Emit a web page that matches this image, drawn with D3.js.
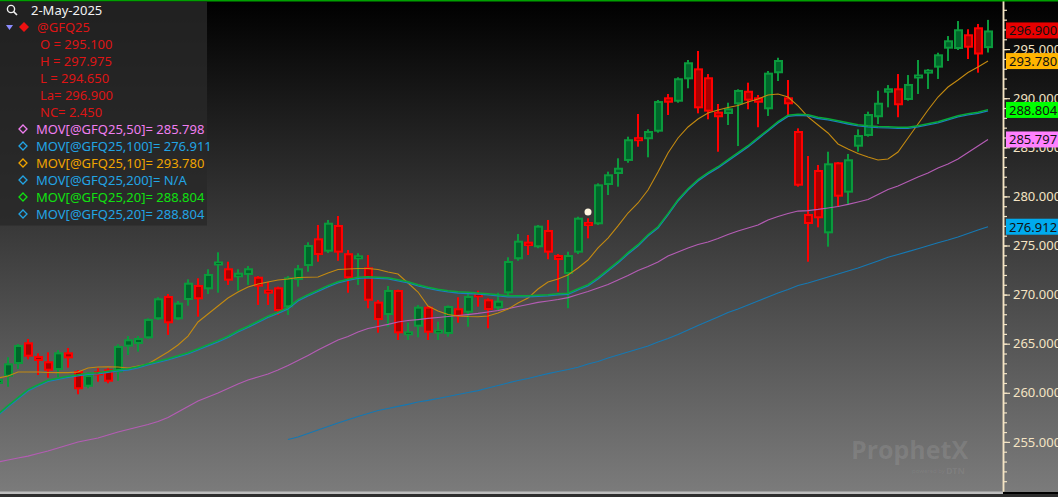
<!DOCTYPE html>
<html><head><meta charset="utf-8">
<script src="https://cdn.jsdelivr.net/npm/d3@7"></script>
<style>html,body{margin:0;padding:0;background:#000;overflow:hidden}svg{display:block}</style>
</head><body><svg id="c" width="1058" height="497"></svg>
<script>
// ---------- DATA ----------
const openP  = [260.90,261.64,262.93,265.14,263.75,263.21,262.32,264.12,262.22,260.62,262.15,262.39,262.09,264.70,264.97,265.55,267.49,269.86,267.49,269.45,270.98,270.54,273.09,272.68,271.76,272.00,271.82,270.47,270.74,268.71,271.49,272.91,275.73,274.37,277.09,274.21,273.66,272.78,269.28,267.92,270.47,265.89,266.73,268.77,266.06,265.99,268.61,268.16,270.13,269.52,268.61,270.13,273.60,275.39,274.82,276.58,274.03,272.10,274.27,277.39,277.16,281.16,282.28,283.61,285.98,285.82,286.59,290.09,289.64,291.92,293.04,292.13,288.63,288.39,289.38,290.76,290.09,288.87,292.54,290.09,286.66,278.21,282.69,276.24,283.47,280.38,285.06,286.15,288.06,290.56,291.01,289.82,292.09,292.54,293.11,295.04,295.01,296.51,297.22,295.10];
const highP  = [261.80,263.62,264.97,265.48,264.02,264.12,264.36,264.56,262.32,262.05,262.50,262.50,264.94,265.78,265.78,267.59,269.73,270.06,269.35,271.56,271.66,272.58,274.31,273.35,272.58,272.91,271.89,271.31,270.81,271.89,273.02,275.33,277.09,277.60,278.00,274.54,274.21,274.03,269.45,270.88,270.50,267.14,268.94,268.84,267.24,268.91,269.73,270.13,270.40,269.62,270.19,273.80,276.17,276.07,277.09,277.60,274.13,274.37,277.93,277.77,281.33,282.52,283.88,286.08,288.39,286.83,289.82,290.43,292.13,293.89,294.81,292.46,289.41,289.54,290.91,291.58,290.33,292.77,294.12,291.85,286.93,284.11,283.20,284.55,283.50,284.32,286.83,288.63,290.76,291.34,292.46,292.36,293.89,292.97,294.63,296.33,297.86,297.02,297.56,297.975];
const lowP   = [260.30,260.62,262.42,263.41,261.81,261.54,261.58,262.56,259.85,260.46,261.13,260.97,261.23,263.85,264.19,265.48,267.41,265.89,267.41,268.87,267.75,270.06,270.19,270.98,270.40,270.98,268.94,268.94,267.92,267.92,270.81,272.33,273.35,274.24,273.45,270.19,270.98,268.61,266.12,266.73,265.38,265.38,265.65,265.38,265.38,265.71,267.14,266.73,268.77,266.57,268.43,269.96,273.45,274.03,274.72,273.60,270.30,268.61,274.13,275.73,277.09,280.14,280.99,283.43,285.06,283.98,286.49,288.29,289.54,291.01,288.46,287.85,284.55,287.27,285.13,288.87,287.04,288.19,291.75,288.19,280.99,273.35,276.85,274.88,278.95,279.12,284.55,286.08,287.37,289.07,288.06,289.75,290.43,290.94,291.96,293.79,294.91,293.99,292.60,294.65];
const closeP = [261.41,263.00,264.87,263.68,263.24,262.25,264.12,263.51,260.36,261.81,261.81,261.13,264.77,265.45,265.58,267.52,269.62,267.08,269.18,271.21,269.52,272.10,273.25,271.42,272.23,272.68,270.81,270.13,268.33,271.76,272.68,275.05,274.03,277.32,274.27,271.66,273.93,269.38,267.41,270.47,266.06,266.22,268.77,266.12,266.40,268.84,267.75,269.86,269.73,268.43,269.38,273.42,275.49,274.95,277.02,274.27,273.52,274.03,277.83,276.99,281.23,282.25,282.92,285.82,285.67,286.66,289.71,289.54,292.03,293.66,288.97,288.63,288.06,288.97,290.84,289.75,289.54,292.60,293.89,289.38,281.09,277.19,277.77,283.37,279.97,283.78,286.25,288.39,289.54,291.01,289.28,291.45,292.33,292.87,294.47,295.90,297.02,295.14,294.45,296.90];

const ma10 = [261.51,261.71,262.12,262.12,262.12,262.07,262.05,262.05,262.12,262.53,262.63,262.66,262.63,262.53,262.73,262.93,263.54,264.16,264.87,265.78,267.21,268.02,268.84,269.65,270.26,270.77,271.08,271.28,271.49,271.59,271.74,271.76,271.79,272.20,272.56,272.61,272.66,272.66,272.56,272.30,272.10,271.18,270.26,268.84,268.33,267.97,267.82,267.77,267.75,267.82,268.13,268.53,269.14,269.65,270.57,271.28,271.59,272.00,272.71,273.52,274.75,275.76,276.99,278.31,279.33,280.65,282.48,284.42,285.95,287.07,287.88,288.49,288.80,289.05,289.26,289.61,289.92,290.33,290.43,290.12,289.21,288.09,287.27,286.46,285.34,284.83,284.37,284.01,283.71,283.81,284.52,285.95,287.37,288.80,290.12,291.14,291.85,292.62,293.18,293.78];
const ma20 = [257.79,258.66,259.47,260.29,260.79,261.25,261.46,261.66,261.81,261.97,262.02,262.17,262.32,262.42,262.63,262.93,263.19,263.44,263.75,264.05,264.46,264.87,265.28,265.73,266.29,266.75,267.26,267.77,268.18,268.64,269.45,269.96,270.42,270.88,271.28,271.54,271.74,271.79,271.74,271.69,271.49,271.28,270.98,270.72,270.52,270.37,270.26,270.21,270.14,270.06,269.96,269.86,269.86,269.86,269.91,269.96,270.06,270.11,270.57,270.98,271.69,272.51,273.32,274.24,275.05,276.07,276.88,278.21,279.63,280.75,281.67,282.38,282.99,283.71,284.42,285.13,285.95,286.76,287.58,288.24,288.34,288.29,288.03,287.88,287.68,287.47,287.27,287.17,287.10,287.07,287.02,287.02,287.17,287.37,287.58,287.88,288.19,288.39,288.54,288.804];
const ma50 = [252.95,253.16,253.36,253.56,253.82,254.07,254.38,254.68,254.99,255.19,255.40,255.70,256.01,256.26,256.52,256.77,257.08,257.48,258.04,258.60,259.16,259.57,259.98,260.44,260.90,261.30,261.61,261.91,262.32,262.78,263.29,263.80,264.36,264.87,265.38,265.73,266.19,266.55,266.75,266.96,267.21,267.36,267.46,267.57,267.67,267.77,267.87,267.97,268.08,268.23,268.38,268.58,268.79,268.99,269.20,269.35,269.50,269.70,270.01,270.32,270.67,271.03,271.49,271.95,272.45,272.86,273.32,273.93,274.34,274.75,275.10,275.36,275.71,276.12,276.48,276.78,277.09,277.60,277.95,278.26,278.51,278.56,278.67,278.82,278.97,279.18,279.43,279.68,280.19,280.70,281.06,281.52,281.98,282.38,282.89,283.30,283.81,284.47,285.13,285.798];
const ma100 = [null,null,null,null,null,null,null,null,null,null,null,null,null,null,null,null,null,null,null,null,null,null,null,null,null,null,null,null,null,255.24,255.50,255.86,256.21,256.57,256.92,257.26,257.59,257.89,258.20,258.40,258.61,258.83,259.06,259.22,259.42,259.62,259.83,260.03,260.23,260.49,260.74,261.00,261.25,261.46,261.71,261.95,262.17,262.37,262.60,262.93,263.19,263.54,263.85,264.15,264.46,264.77,265.17,265.53,265.94,266.40,266.85,267.28,267.72,268.18,268.53,268.94,269.35,269.76,270.16,270.52,270.93,271.18,271.49,271.79,272.10,272.40,272.71,273.06,273.42,273.80,274.08,274.37,274.67,274.97,275.28,275.56,275.87,276.22,276.58,276.911];

const markerIndex = 59, markerPrice = 278.4;
const majorTicks = [255, 260, 265, 270, 275, 280, 285, 290, 295];
const minorTicks = d3.range(251, 300);

const dateLabel = "2-May-2025";
const symbolLabel = "@GFQ25";
const quoteRows = ["O = 295.100", "H = 297.975", "L = 294.650", "La= 296.900", "NC= 2.450"];
const studyRows = ["MOV[@GFQ25,50]= 285.798", "MOV[@GFQ25,100]= 276.911", "MOV[@GFQ25,10]= 293.780", "MOV[@GFQ25,200]= N/A", "MOV[@GFQ25,20]= 288.804", "MOV[@GFQ25,20]= 288.804"];
const tagValues = [296.900, 293.780, 288.804, 285.797, 276.912];

// ---------- STYLE ----------
const studyColors = ["#f07ef0", "#22a4e4", "#f0a400", "#22a4e4", "#10e010", "#22a4e4"];
const tagColors = ["#e80000", "#ffb400", "#00ff00", "#ff80ff", "#00aaee"];
const W = 1058, H = 497, plotR = 1003, plotB = 491;

const svg = d3.select("#c");
const defs = svg.append("defs");
const grad = defs.append("linearGradient").attr("id","bg").attr("x1",0).attr("x2",0).attr("y1",0).attr("y2",1);
grad.append("stop").attr("offset","0%").attr("stop-color","#000000");
grad.append("stop").attr("offset","100%").attr("stop-color","#7b7b7b");
defs.append("clipPath").attr("id","plotclip").append("rect").attr("x",0).attr("y",0).attr("width",plotR).attr("height",plotB);

svg.append("rect").attr("width",W).attr("height",plotB+1).attr("fill","url(#bg)");
svg.append("rect").attr("x",0).attr("y",491.5).attr("width",plotR).attr("height",2.5).attr("fill","#bdbdbd");
svg.append("rect").attr("x",0).attr("y",494).attr("width",W).attr("height",3).attr("fill","#2d2d2d");

const idx = d3.range(closeP.length);
const x = d3.scaleLinear().domain([0, 99]).range([-2, 988]);
const y = d3.scaleLinear().domain([250, 300]).range([plotB, 0]);

// watermark
const wm = svg.append("g");
wm.append("text").attr("x",851).attr("y",459).attr("font-family","Open Sans, Noto Sans, sans-serif").attr("font-weight","bold")
  .attr("font-size",25).attr("fill","#ffffff").attr("fill-opacity",0.1).text("ProphetX");
wm.append("text").attr("x",912).attr("y",473).attr("font-family","Noto Sans, sans-serif")
  .attr("font-size",6).attr("fill","#ffffff").attr("fill-opacity",0.07).text("powered by");
wm.append("text").attr("x",946).attr("y",474).attr("font-family","Noto Sans, sans-serif").attr("font-weight","bold")
  .attr("font-size",9).attr("fill","#ffffff").attr("fill-opacity",0.08).text("DTN");

const plot = svg.append("g").attr("clip-path","url(#plotclip)");

// candles
const up = i => closeP[i] >= openP[i];
plot.append("g").selectAll("rect").data(idx).join("rect")
  .attr("x", i => Math.round(x(i)) - 1).attr("width", 2)
  .attr("y", i => y(highP[i])).attr("height", i => Math.max(1, y(lowP[i]) - y(highP[i])))
  .attr("fill", i => up(i) ? "#0b9a3c" : "#ff0000");
const bodies = plot.append("g").selectAll("g").data(idx).join("g");
bodies.append("rect")
  .attr("x", i => Math.round(x(i)) - 4).attr("width", 9)
  .attr("y", i => { const t = y(Math.max(openP[i], closeP[i])), b = y(Math.min(openP[i], closeP[i])); return b - t < 4 ? (t + b) / 2 - 2 : t; })
  .attr("height", i => Math.max(4, y(Math.min(openP[i], closeP[i])) - y(Math.max(openP[i], closeP[i]))))
  .attr("fill", i => up(i) ? "#0b9a3c" : "#ff0000");
bodies.append("rect")
  .attr("x", i => Math.round(x(i)) - 2).attr("width", 5)
  .attr("y", i => { const t = y(Math.max(openP[i], closeP[i])), b = y(Math.min(openP[i], closeP[i])); return b - t < 4 ? (t + b) / 2 - 0.5 : t + 2; })
  .attr("height", i => Math.max(1, y(Math.min(openP[i], closeP[i])) - y(Math.max(openP[i], closeP[i])) - 4))
  .attr("fill", i => up(i) ? "#00652a" : "#a80000");

// moving averages
const line = d3.line().defined(d => d != null).x((d, i) => x(i)).y(d => y(d));
plot.append("path").datum(ma100).attr("d", line).attr("fill","none").attr("stroke","#1678b2").attr("stroke-width",1.2);
plot.append("path").datum(ma50).attr("d", line).attr("fill","none").attr("stroke","#b45cb4").attr("stroke-width",1.2);
plot.append("path").datum(ma10).attr("d", line).attr("fill","none").attr("stroke","#c48a10").attr("stroke-width",1.1);
plot.append("path").datum(ma20).attr("d", line).attr("fill","none").attr("stroke","#1a7ec0").attr("stroke-width",1.4).attr("transform","translate(0,0.9)");
plot.append("path").datum(ma20).attr("d", line).attr("fill","none").attr("stroke","#09a83a").attr("stroke-width",1.5).attr("transform","translate(0,-0.3)");

// marker
plot.append("circle").attr("cx", x(markerIndex)).attr("cy", y(markerPrice)).attr("r", 3.5).attr("fill", "#fff6e0");

// axis
const axMinor = svg.append("g").attr("transform", `translate(${plotR},0)`)
  .call(d3.axisRight(y).tickValues(minorTicks).tickSize(4).tickSizeOuter(0).tickFormat(""));
const axMajor = svg.append("g").attr("transform", `translate(${plotR},0)`)
  .call(d3.axisRight(y).tickValues(majorTicks).tickSize(7).tickSizeOuter(0).tickPadding(3).tickFormat(d3.format(".3f")));
[axMinor, axMajor].forEach(a => {
  a.select(".domain").attr("stroke","#f4e4c4").attr("stroke-width",1.5);
  a.selectAll(".tick line").attr("stroke","#f4e4c4").attr("stroke-width",1.2);
});
axMajor.selectAll(".tick text").attr("fill","#f4e4c4").attr("font-family","Noto Sans, sans-serif").attr("font-size",13);

// value tags
const tags = svg.append("g").selectAll("g").data(tagValues).join("g")
  .attr("transform", d => `translate(1006,${y(d)})`);
tags.append("rect").attr("x",0).attr("y",-8).attr("width",52).attr("height",16).attr("fill",(d,i) => tagColors[i]);
tags.append("text").attr("x",3).attr("y",5).attr("font-family","Noto Sans, sans-serif").attr("font-size",13)
  .attr("fill","#111").text(d => d3.format(".3f")(d));

// top line
svg.append("rect").attr("x",0).attr("y",0).attr("width",W).attr("height",1.5).attr("fill","#00a000");

// legend panel
const lg = svg.append("g");
lg.append("rect").attr("x",0).attr("y",1.5).attr("width",207).attr("height",224).attr("fill","rgb(40,40,40)").attr("fill-opacity",0.82);
const font = "Noto Sans, sans-serif";
lg.append("circle").attr("cx",11).attr("cy",9).attr("r",3.6).attr("fill","none").attr("stroke","#f0f0f0").attr("stroke-width",1.4);
lg.append("line").attr("x1",13.6).attr("y1",11.6).attr("x2",17).attr("y2",15).attr("stroke","#f0f0f0").attr("stroke-width",1.6);
lg.append("text").attr("x",31).attr("y",15).attr("font-family",font).attr("font-size",13).attr("fill","#f2f2f2").text(dateLabel);
lg.append("path").attr("d","M6,25 L13,25 L9.5,30 Z").attr("fill","#8c8cff");
lg.append("path").attr("d","M24,22 L29,27 L24,32 L19,27 Z").attr("fill","#ee1111");
lg.append("text").attr("x",37).attr("y",32).attr("font-family",font).attr("font-size",13).attr("fill","#dd1515").text(symbolLabel);
lg.selectAll(".q").data(quoteRows).join("text").attr("class","q")
  .attr("x",40).attr("y",(d,i) => 49 + i * 17).attr("font-family",font).attr("font-size",13).attr("fill","#dd1515").text(d => d);
const sr = lg.selectAll(".s").data(studyRows).join("g").attr("class","s")
  .attr("transform",(d,i) => `translate(0,${134 + i * 17})`);
sr.append("path").attr("d","M23,-9 L27,-5 L23,-1 L19,-5 Z").attr("fill","none").attr("stroke",(d,i) => studyColors[i]).attr("stroke-width",1.3);
sr.append("text").attr("x",36).attr("y",0).attr("font-family",font).attr("font-size",13).attr("fill",(d,i) => studyColors[i]).text(d => d);
</script>
</body></html>
